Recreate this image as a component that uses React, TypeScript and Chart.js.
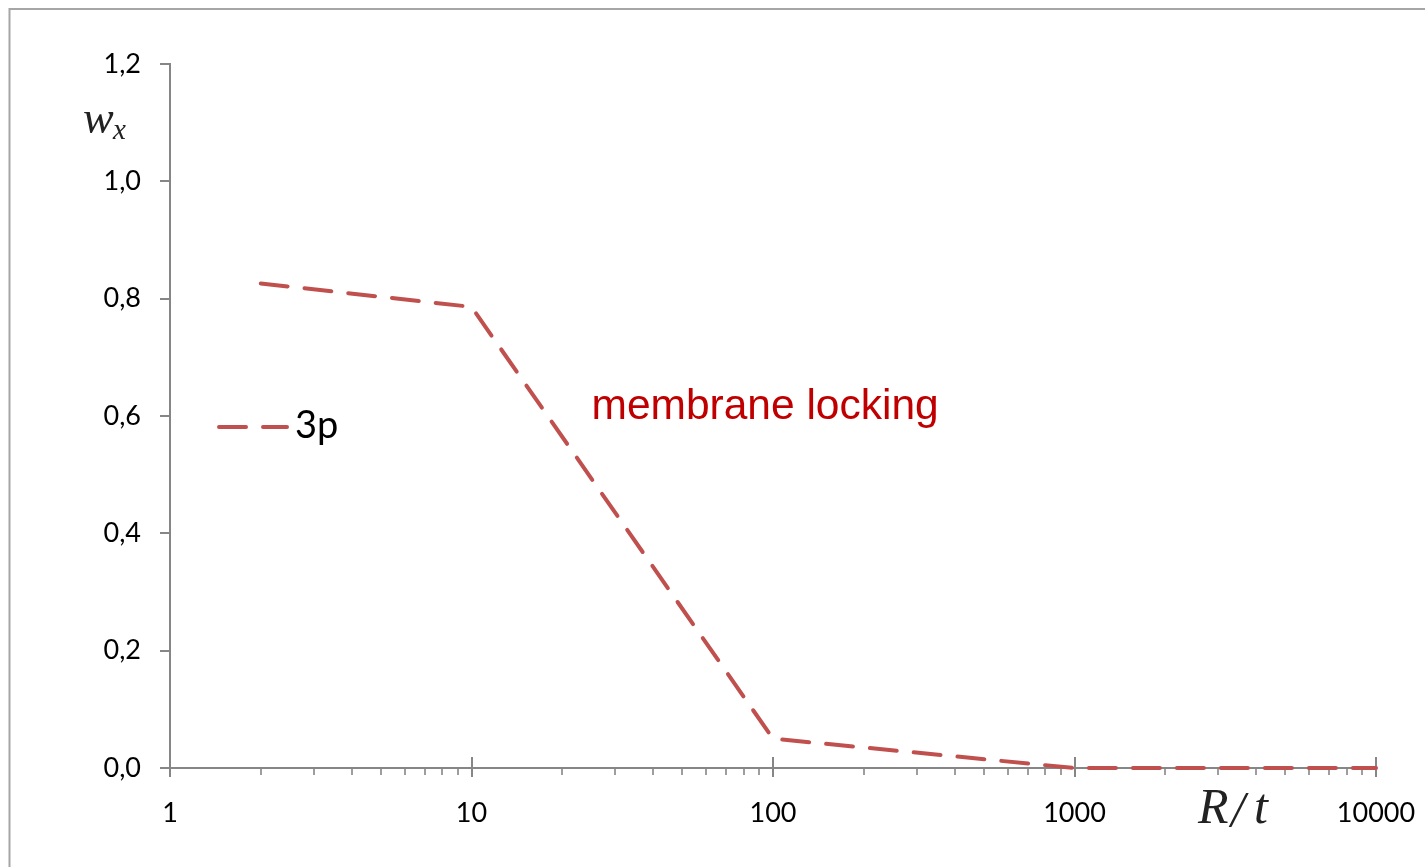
import React, { useEffect, useRef } from "react";
import { Chart, registerables } from "chart.js";

Chart.register(...registerables);

// ---- data ----
const ratioRt: number[] = [2, 10, 100, 1000, 10000];
const wx3p: number[] = [0.826, 0.786, 0.05, 0, 0];
const seriesLabel = "3p";
const xTickValues: number[] = [
  1, 2, 3, 4, 5, 6, 7, 8, 9,
  10, 20, 30, 40, 50, 60, 70, 80, 90,
  100, 200, 300, 400, 500, 600, 700, 800, 900,
  1000, 2000, 3000, 4000, 5000, 6000, 7000, 8000, 9000,
  10000,
];
const yMin = 0;
const yMax = 1.2;
const yStep = 0.2;
const annotationText = "membrane locking";
const annotationX = 25;
const annotationY = 0.595;

const AXIS_COLOR = "#868686";
const LINE_COLOR = "#C0504D";
const TICK_FONT = "Lato";

const isPow10 = (v: number) => Math.abs(Math.log10(v) - Math.round(Math.log10(v))) < 1e-9;

export default function App() {
  const canvasRef = useRef<HTMLCanvasElement | null>(null);

  useEffect(() => {
    const canvas = canvasRef.current;
    if (!canvas) return;

    const decorPlugin = {
      id: "decor",
      beforeDraw(chart: any) {
        const ctx = chart.ctx;
        ctx.save();
        ctx.fillStyle = "#ffffff";
        ctx.fillRect(0, 0, chart.width, chart.height);
        ctx.strokeStyle = "#a6a6a6";
        ctx.lineWidth = 2;
        ctx.strokeRect(1.5, 1, chart.width + 20, chart.height + 20);
        ctx.restore();
      },
      beforeDatasetsDraw(chart: any) {
        const ctx = chart.ctx;
        const xs = chart.scales.x;
        const y0 = chart.chartArea.bottom;
        ctx.save();
        ctx.strokeStyle = AXIS_COLOR;
        for (const v of xTickValues) {
          const px = Math.round(xs.getPixelForValue(v));
          ctx.beginPath();
          if (isPow10(v)) {
            ctx.lineWidth = 2;
            ctx.moveTo(px, y0 - 11);
            ctx.lineTo(px, y0 + 9);
          } else {
            ctx.lineWidth = 1.6;
            ctx.moveTo(px, y0);
            ctx.lineTo(px, y0 + 7);
          }
          ctx.stroke();
        }
        ctx.restore();
      },
      afterDatasetsDraw(chart: any) {
        const ctx = chart.ctx;
        const xs = chart.scales.x;
        const ys = chart.scales.y;
        const area = chart.chartArea;
        ctx.save();
        // legend
        const lx = area.left + 47;
        const ly = area.top + 363;
        ctx.strokeStyle = LINE_COLOR;
        ctx.lineWidth = 4;
        ctx.lineCap = "round";
        ctx.setLineDash([27, 17]);
        ctx.beginPath();
        ctx.moveTo(lx + 2, ly);
        ctx.lineTo(lx + 70, ly);
        ctx.stroke();
        ctx.setLineDash([]);
        ctx.fillStyle = "#000000";
        ctx.font = `38px ${TICK_FONT}`;
        ctx.textBaseline = "alphabetic";
        ctx.textAlign = "left";
        ctx.fillText(seriesLabel, area.left + 125, area.top + 374);

        // annotation
        ctx.fillStyle = "#C00000";
        ctx.font = `42.5px "Liberation Sans"`;
        ctx.fillText(annotationText, xs.getPixelForValue(annotationX), ys.getPixelForValue(annotationY));

        // axis titles
        ctx.fillStyle = "#222222";
        ctx.font = `italic 46px "Liberation Serif"`;
        ctx.fillText("w", 75, 125);
        ctx.font = `italic 29px "Liberation Serif"`;
        ctx.fillText("x", 105, 131);
        ctx.font = `italic 50px "Liberation Serif"`;
        ctx.fillText("R", 1190, 815);
        ctx.fillText("/", 1223, 818);
        ctx.fillText("t", 1246, 815);
        ctx.restore();
      },
    };

    const chart = new Chart(canvas, {
      type: "line",
      data: {
        datasets: [
          {
            label: seriesLabel,
            data: ratioRt.map((x, i) => ({ x, y: wx3p[i] })),
            borderColor: LINE_COLOR,
            backgroundColor: LINE_COLOR,
            borderWidth: 4,
            borderDash: [27, 17],
            borderCapStyle: "round",
            pointRadius: 0,
            tension: 0,
            fill: false,
            clip: false as any,
          },
        ],
      },
      options: {
        animation: false,
        responsive: false,
        layout: { padding: { left: 62, right: 49, top: 56, bottom: 0 } },
        plugins: {
          legend: { display: false },
          tooltip: { enabled: false },
        },
        scales: {
          x: {
            type: "logarithmic",
            min: 1,
            max: 10000,
            afterBuildTicks: (s: any) => {
              s.ticks = xTickValues.map((v) => ({ value: v, major: isPow10(v) }));
            },
            afterFit: (s: any) => {
              s.height = 99;
              s.paddingLeft = 0;
              s.paddingRight = 0;
            },
            grid: { display: false },
            border: { display: true, color: AXIS_COLOR, width: 2 },
            ticks: {
              autoSkip: false,
              maxRotation: 0,
              padding: 21,
              color: "#000000",
              font: { family: TICK_FONT, size: 27 },
              callback: (value: any) => (isPow10(Number(value)) ? String(value) : ""),
            },
          },
          y: {
            type: "linear",
            min: yMin,
            max: yMax,
            afterFit: (s: any) => {
              s.width = 100;
              s.paddingTop = 0;
              s.paddingBottom = 0;
            },
            grid: {
              display: true,
              drawOnChartArea: false,
              drawTicks: true,
              tickLength: 10,
              color: AXIS_COLOR,
              lineWidth: 2,
            },
            border: { display: true, color: AXIS_COLOR, width: 2 },
            ticks: {
              stepSize: yStep,
              padding: 19,
              color: "#000000",
              font: { family: TICK_FONT, size: 27 },
              callback: (value: any) => Number(value).toFixed(1).replace(".", ","),
            },
          },
        },
      },
      plugins: [decorPlugin],
    } as any);

    return () => chart.destroy();
  }, []);

  return (
    <div style={{ position: "fixed", left: 8, top: 8, width: 1417, height: 859 }}>
      <canvas ref={canvasRef} width={1417} height={859} style={{ display: "block" }} />
    </div>
  );
}
